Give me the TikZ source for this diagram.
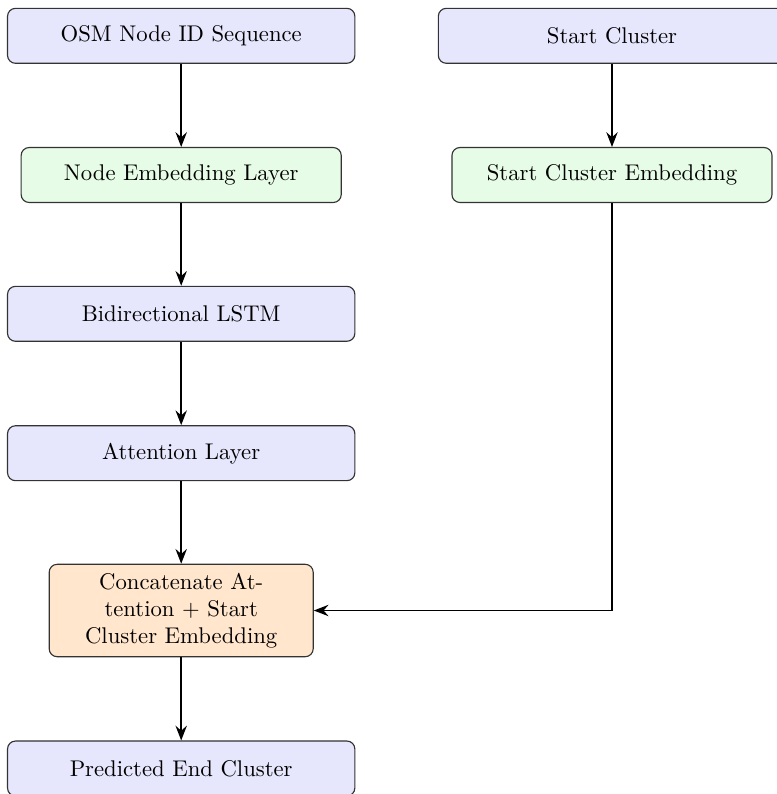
\documentclass[tikz,border=0pt]{standalone}
\usetikzlibrary{arrows.meta}
\definecolor{boxblue}{RGB}{230,230,252}
\definecolor{boxgreen}{RGB}{230,252,230}
\definecolor{boxorange}{RGB}{255,230,204}
\tikzset{
  base/.style={draw=black!80, rounded corners=3.5pt, align=center, inner sep=3.33pt, line width=0.5pt},
  bigbox/.style={base, fill=boxblue, minimum width=153pt, minimum height=24.2pt},
  embbox/.style={base, fill=boxgreen, minimum width=141pt, minimum height=24.2pt},
  catbox/.style={base, fill=boxorange, minimum width=116.3pt, minimum height=40.7pt},
  flow/.style={-{Stealth[length=6.5pt,width=5pt,inset=2.2pt]}, line width=0.8pt}
}
\begin{document}
\begin{tikzpicture}[x=0.4405pt, y=-0.4405pt]
\useasboundingbox (0,0) rectangle (777,794);
\node[bigbox] (osm) at (181.2,35.8) {OSM Node ID Sequence};
\node[embbox] (nemb) at (181.2,175) {Node Embedding Layer};
\node[bigbox] (lstm) at (181.2,313.8) {Bidirectional LSTM};
\node[bigbox] (att) at (181.2,453.2) {Attention Layer};
\node[catbox] (cat) at (181.2,610.5) {Concatenate At-\\tention + Start\\Cluster Embedding};
\node[bigbox] (pred) at (181.2,768.5) {Predicted End Cluster};
\node[bigbox] (sc) at (612,35.8) {Start Cluster};
\node[embbox] (semb) at (612,175) {Start Cluster Embedding};
\draw[flow] (osm) -- (nemb);
\draw[flow] (nemb) -- (lstm);
\draw[flow] (lstm) -- (att);
\draw[flow] (att) -- (cat);
\draw[flow] (cat) -- (pred);
\draw[flow] (sc) -- (semb);
\draw[flow] (semb.south) |- (cat.east);
\end{tikzpicture}
\end{document}
